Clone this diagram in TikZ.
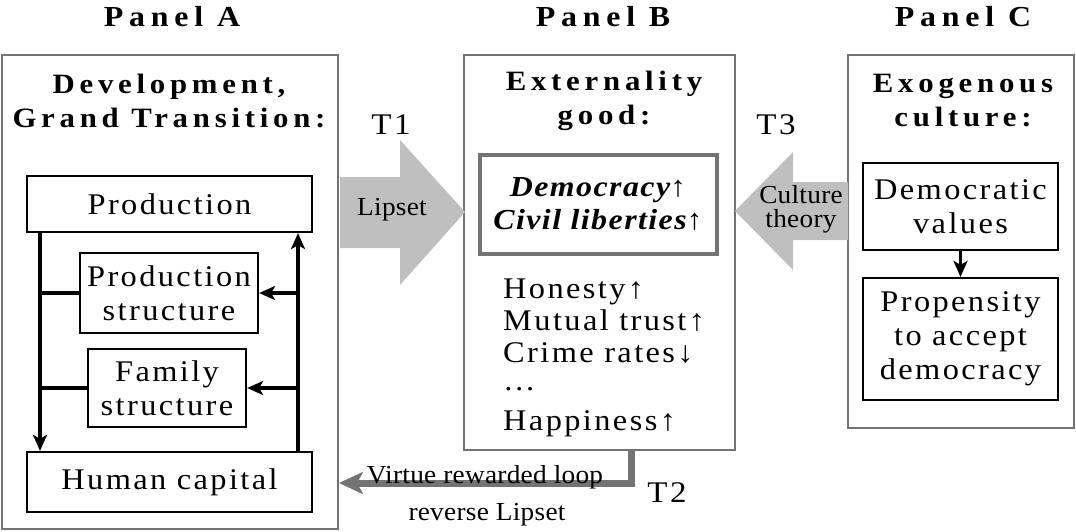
\documentclass[tikz,border=0pt]{standalone}
\usepackage{fontspec}
\setmainfont{Liberation Serif}
\usetikzlibrary{arrows.meta}
\newcommand{\bodyf}{\fontsize{30}{34}\selectfont\addfontfeature{FakeStretch=1.08,LetterSpace=8}}
\newcommand{\headf}{\fontsize{28}{34}\selectfont\bfseries\addfontfeature{FakeStretch=1.1,LetterSpace=17}}
\newcommand{\titlef}{\fontsize{29}{32}\selectfont\bfseries\addfontfeature{FakeStretch=1.1,LetterSpace=20}}
\newcommand{\smallf}{\fontsize{26}{30}\selectfont\addfontfeature{FakeStretch=1.05,LetterSpace=1}}
\newcommand{\tlabf}{\fontsize{30}{32}\selectfont\addfontfeature{FakeStretch=1.1,LetterSpace=8}}
\tikzset{
  panel/.style={draw=gray!90!black, line width=2pt, inner sep=0pt},
  box/.style={draw=black, line width=2.2pt, inner sep=0pt, align=center, font=\bodyf},
  arr/.style={line width=3.6pt, -{Stealth[length=16pt,width=14pt,inset=4pt]}},
  lin/.style={line width=3.6pt},
  blockarrow/.style={fill=black!25, draw=none},
  txt/.style={inner sep=0pt, align=center},
}
\begin{document}
\begin{tikzpicture}[x=1pt,y=-1pt]
\useasboundingbox (0,0) rectangle (1076,531);
% panels
\node[panel, minimum width=336pt, minimum height=474pt] (pA) at (170,292) {};
\node[panel, minimum width=271pt, minimum height=395pt] (pB) at (599.5,252.5) {};
\node[panel, minimum width=226pt, minimum height=373pt] (pC) at (961,241.5) {};
% titles
\node[txt, font=\titlef] (tA) at (172,17) {Panel A};
\node[txt, font=\titlef] (tB) at (603,17) {Panel B};
\node[txt, font=\titlef] (tC) at (963,17) {Panel C};
% headings
\node[txt, font=\headf] (hA) at (169,101) {Development,\\Grand Transition:};
\node[txt, font=\headf] (hB) at (604,101) {Externality\\good:};
\node[txt, font=\headf] (hC) at (963,101) {Exogenous\\culture:};
% Panel A boxes
\node[box, minimum width=285pt, minimum height=56pt] (prod) at (169.5,204) {Production};
\node[box, minimum width=178pt, minimum height=80pt] (ps) at (169,293) {Production\\structure};
\node[box, minimum width=158pt, minimum height=78pt] (fs) at (167,388) {Family\\structure};
\node[box, minimum width=285pt, minimum height=60pt] (hc) at (169.5,482) {Human capital};
\coordinate (lx) at (40,0);
\coordinate (rx) at (298,0);
\draw[arr] (prod.south -| lx) -- (hc.north -| lx);
\draw[arr] (hc.north -| rx) -- (prod.south -| rx);
\draw[lin] (lx |- ps.west) -- (ps.west);
\draw[lin] (lx |- fs.west) -- (fs.west);
\draw[arr] (rx |- ps.east) -- (ps.east);
\draw[arr] (rx |- fs.east) -- (fs.east);
% Panel B
\node[draw=gray!90!black, line width=4pt, minimum width=237pt, minimum height=99pt, inner sep=0pt, align=center,
  font=\fontsize{29}{33}\selectfont\bfseries\itshape\addfontfeature{FakeStretch=1.1,LetterSpace=5}] (dem) at (598,204)
  {Democracy{\mdseries\upshape↑}\\Civil liberties{\mdseries\upshape↑}};
\node[txt, font=\bodyf, align=left, anchor=north west] (list) at (503,279)
  {Honesty↑\\[-2pt]Mutual trust↑\\[-2pt]Crime rates↓\\[-6pt]…\\[6pt]Happiness↑};
% Panel C
\node[box, minimum width=195pt, minimum height=87pt] (dv) at (960.5,206.5) {Democratic\\values};
\node[box, minimum width=195pt, minimum height=122pt] (pr) at (960.5,339) {Propensity\\to accept\\democracy};
\draw[arr] (dv.south) -- (pr.north);
% T1 arrow
\fill[blockarrow] (340,177) -- (400,177) -- (400,140) -- (465,212) -- (400,285) -- (400,248) -- (340,248) -- cycle;
\node[txt, font=\smallf] (lip) at (392,210) {Lipset};
\node[txt, font=\tlabf] (t1) at (391,125) {T1};
% T3 arrow
\fill[blockarrow] (848,182) -- (793,182) -- (793,152) -- (735,211) -- (793,270) -- (793,240) -- (848,240) -- cycle;
\node[txt, font=\smallf, align=center] (ct) at (801,209) {Culture\\[-6pt]theory};
\node[txt, font=\tlabf] (t3) at (776,125) {T3};
% T2 loop
\coordinate (t2a) at (631,0);
\coordinate (t2c) at (631,483);
\draw[gray!90!black, line width=7pt, -{Stealth[length=24pt,width=22pt,inset=6pt]}]
  (pB.south -| t2a) -- (t2c) -- (pA.east |- t2c);
\node[txt, font=\smallf] (vr) at (485,477) {Virtue rewarded loop};
\node[txt, font=\smallf] (rl) at (487,515) {reverse Lipset};
\node[txt, font=\tlabf] (t2) at (667,493) {T2};
\end{tikzpicture}
\end{document}
